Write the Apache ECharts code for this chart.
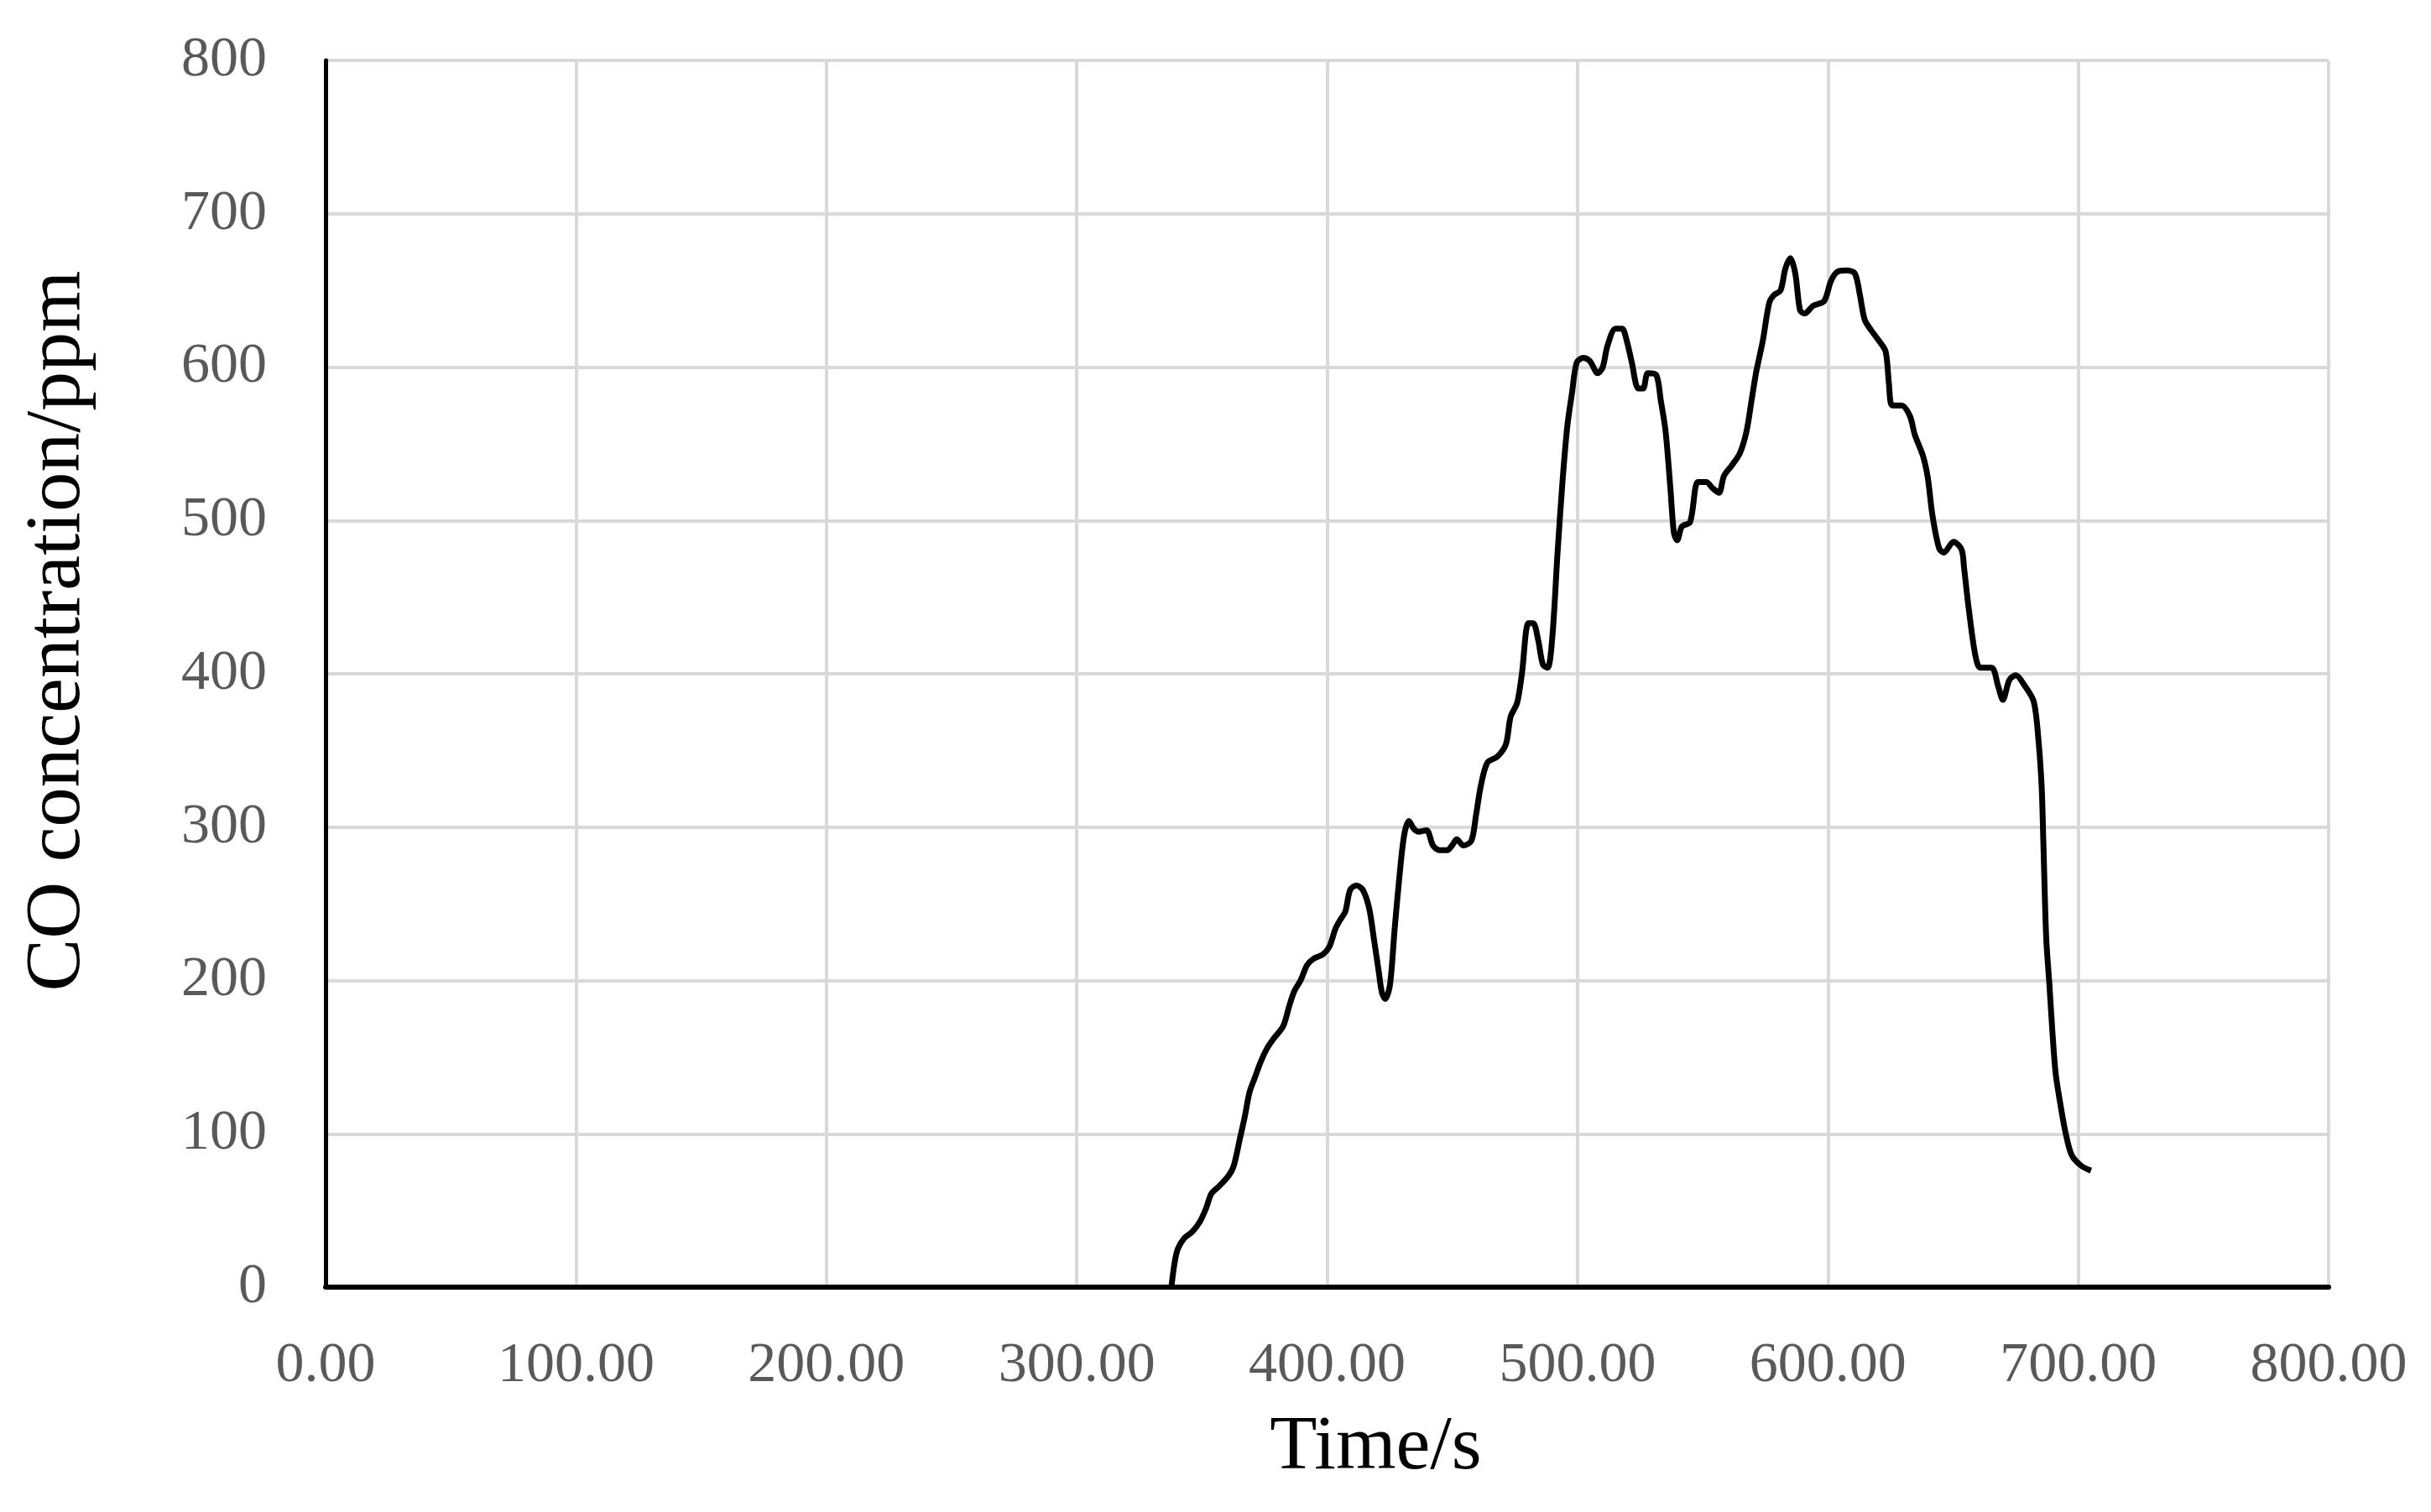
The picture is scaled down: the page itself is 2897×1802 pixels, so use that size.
<!DOCTYPE html>
<html>
<head>
<meta charset="utf-8">
<script src="https://cdn.jsdelivr.net/npm/echarts@6/dist/echarts.min.js"></script>
<style>
  html, body { margin: 0; padding: 0; background: #fff; }
  #chart { width: 2897px; height: 1802px; }
</style>
</head>
<body>
<div id="chart"></div>
<script>
// time (s) and CO concentration (ppm)
const time = [
  337.8, 339.1, 340.4, 343, 346.1, 349.3, 351.8, 353.8, 357, 360.8, 362.7, 365.2, 367.1, 369, 371,
  373.5, 376.1, 378.6, 382.4, 385, 386.9, 389.4, 392, 394.5, 398.3, 400.9, 403.4, 405.4, 407.3, 409.2,
  411.7, 414.3, 416.8, 418.7, 420.6, 421.9, 423.2, 425.1, 427, 428.9, 430.8, 432.7, 434.6, 436.6, 439.7,
  442.3, 444.8, 448, 449.9, 451.8, 454.4, 457.6, 459.5, 461.4, 464, 468, 471.4, 473.3, 475.9, 477.8,
  480.4, 482.3, 484.3, 486.2, 488.1, 490, 492, 494, 495.9, 497.8, 499.7, 502.3, 504.9, 508.1, 510.1,
  512, 515.2, 517.8, 519.7, 521.7, 524.3, 526.2, 528.1, 531.4, 533.3, 535.2, 537.2, 538.5, 539.8, 541.7,
  545, 548.1, 551.4, 554, 556.5, 558.5, 561.7, 564.9, 567.5, 569.5, 571.4, 574, 576.6, 578.5, 581.1,
  583, 585, 587, 588.9, 590.8, 594.1, 598.5, 601.2, 603.7, 607.6, 610.8, 612.8, 614.7, 617.3, 620.5,
  623.1, 624.4, 625.7, 629.5, 632.8, 634.7, 638, 639.9, 641.8, 644.4, 646.3, 650.2, 653.4, 654.4, 656.3,
  658.9, 660.9, 665.4, 668, 669.9, 672.5, 675.1, 678.3, 682.2, 684.1, 685.4, 686, 687.2, 688.5, 689.7,
  691, 693, 694.9, 697.4, 701.3, 705.1
];
const coPpm = [
  0, 16, 25, 32, 36, 43, 52, 61, 66, 73, 79, 97, 111, 127, 136,
  147, 156, 162, 170, 184, 193, 200, 210, 214, 217, 222, 234, 240, 245, 259,
  262, 259, 247, 227, 206, 192, 188, 197, 234, 268, 295, 304, 299, 297, 298,
  288, 285, 285, 288, 292, 288, 291, 308, 327, 342, 346, 354, 372, 381, 400,
  433, 433, 422, 406, 404, 425, 478, 525, 561, 583, 603, 606, 604, 596, 600,
  614, 625, 625, 617, 603, 586, 586, 596, 595, 578, 558, 519, 492, 487, 496,
  499, 525, 525, 521, 518, 529, 536, 544, 558, 578, 597, 617, 642, 647, 650,
  664, 671, 661, 637, 635, 640, 643, 656, 662, 663, 661, 647, 631, 624, 617,
  610, 589, 575, 575, 568, 556, 542, 528, 503, 482, 479, 486, 481, 469, 442,
  412, 404, 404, 392, 383, 396, 399, 393, 382, 357, 326, 294, 228, 197, 166,
  139, 118, 101, 86, 79, 76
];

const chart = echarts.init(document.getElementById('chart'))
const font = '"Liberation Serif", "Times New Roman", serif'

chart.setOption({
  animation: false,
  grid: { left: 388, right: 122, top: 72, bottom: 268 },
  xAxis: {
    type: 'value',
    min: 0, max: 800, interval: 100,
    name: 'Time/s',
    nameLocation: 'middle',
    nameGap: 146,
    nameTextStyle: { fontFamily: font, fontSize: 92, color: '#000', padding: [0, 0, 0, 116] },
    axisLine: { lineStyle: { color: '#000', width: 6 } },
    axisTick: { show: false },
    axisLabel: {
      margin: 60,
      fontFamily: font, fontSize: 68, color: '#595959',
      formatter: v => v.toFixed(2)
    },
    splitLine: { show: true, lineStyle: { color: '#d9d9d9', width: 4 } }
  },
  yAxis: {
    type: 'value',
    min: 0, max: 800, interval: 100,
    name: 'CO concentration/ppm',
    nameLocation: 'middle',
    nameRotate: 90,
    nameGap: 272,
    nameTextStyle: { fontFamily: font, fontSize: 94, color: '#000', padding: [0, 0, 0, 102] },
    axisLine: { show: true, lineStyle: { color: '#000', width: 5 } },
    axisTick: { show: false },
    axisLabel: { margin: 70, fontFamily: font, fontSize: 68, color: '#595959' },
    splitLine: { show: true, lineStyle: { color: '#d9d9d9', width: 4 } }
  },
  series: [{
    type: 'line',
    data: time.map((t, i) => [t, coPpm[i]]),
    smooth: 0.3,
    showSymbol: false,
    lineStyle: { color: '#000', width: 7 }
  }]
})
</script>
</body>
</html>
